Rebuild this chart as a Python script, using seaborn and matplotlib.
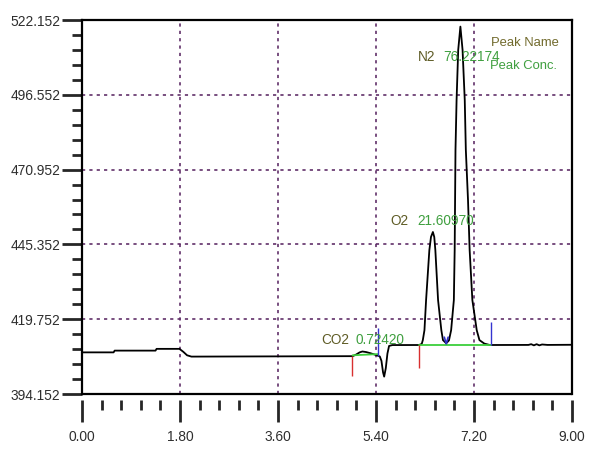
import numpy as np
import seaborn as sns
import matplotlib.pyplot as plt
from matplotlib.ticker import MultipleLocator, FixedLocator, FormatStrFormatter

# chromatogram trace (time in min, detector signal)
trace_time = [0.00, 0.58, 0.60, 1.35, 1.37, 1.79, 1.86, 1.93, 2.01,
              4.97, 5.03, 5.10, 5.15, 5.22, 5.30, 5.40, 5.47, 5.50, 5.53,
              5.55, 5.58, 5.61, 5.64, 5.70, 6.19, 6.24, 6.26, 6.29, 6.32,
              6.38, 6.41, 6.445, 6.47, 6.49, 6.54, 6.60, 6.63, 6.69, 6.74,
              6.78, 6.83, 6.845, 6.86, 6.88, 6.91, 6.95, 6.99, 7.03, 7.05,
              7.09, 7.12, 7.17, 7.25, 7.30, 7.39, 7.49, 8.20, 8.25, 8.30,
              8.35, 8.40, 8.45, 8.55, 9.00]
trace_signal = [408.4, 408.4, 409.0, 409.0, 409.6, 409.6, 408.6, 407.4, 406.95,
                407.1, 407.6, 408.4, 408.7, 408.5, 408.1, 407.5, 407.0, 405.5, 401.5,
                400.1, 403.0, 408.0, 410.6, 410.9, 410.92, 411.3, 412.6, 416.0, 426.3,
                443.4, 447.9, 449.6, 447.9, 443.4, 426.3, 416.0, 412.6, 411.5, 412.5,
                416.0, 426.3, 443.4, 477.7, 494.8, 511.9, 519.9, 511.9, 494.8, 477.7,
                460.5, 443.4, 426.3, 416.0, 412.6, 411.4, 410.92, 410.95, 411.2, 410.8,
                411.2, 410.8, 411.1, 410.95, 411.0]

# integration baselines (green) and peak start/end marks
base1_time = [4.97, 5.43]
base1_signal = [407.4, 407.8]
base2_time = [6.19, 7.51]
base2_signal = [410.92, 410.92]
start_time = [4.967, 6.19]
start_top = [407.15, 410.92]
start_bottom = [400.3, 403.05]
end_time = [5.43, 7.51]
end_top = [416.7, 418.9]
end_bottom = [407.15, 410.92]
drop_time = [6.655, 6.69, 6.725]
drop_signal = [413.6, 411.3, 413.6]

# peak labels
peak_names = ["CO2", "O2", "N2"]
peak_conc = [0.72420, 21.60970, 76.22174]
name_pos = [(4.39, 412.6), (5.67, 453.4), (6.17, 509.5)]
conc_pos = [(5.03, 412.6), (6.155, 453.4), (6.64, 509.5)]

y_min, y_max, y_step = 394.152, 522.152, 25.6

sns.set_style("white")
plt.rcParams['font.family'] = ['Liberation Sans', 'DejaVu Sans']

fig = plt.figure(figsize=(5.91, 4.57), dpi=100)
ax = fig.add_axes([82 / 591, 63 / 457, 490 / 591, 374 / 457])

grid_col = "#5a2763"
ax.set_xlim(0, 9)
ax.set_ylim(y_min, y_max)
ax.xaxis.set_major_locator(MultipleLocator(1.8))
ax.xaxis.set_minor_locator(MultipleLocator(0.36))
ax.xaxis.set_major_formatter(FormatStrFormatter("%.2f"))
yt = [y_min + y_step * k for k in range(6)]
ax.yaxis.set_major_locator(FixedLocator(yt))
ax.yaxis.set_minor_locator(FixedLocator([y_min + y_step / 5 * k for k in range(26)]))
ax.yaxis.set_major_formatter(FormatStrFormatter("%.3f"))
ax.grid(True, which="major", color=grid_col, linestyle=(0, (2.0, 2.6)), linewidth=1.15)

sns.lineplot(x=trace_time, y=trace_signal, color="black", linewidth=1.3,
             estimator=None, sort=False, ax=ax, zorder=3)
sns.lineplot(x=base1_time, y=base1_signal, color="#3ccf3c", linewidth=1.3,
             estimator=None, ax=ax, zorder=4)
sns.lineplot(x=base2_time, y=base2_signal, color="#3ccf3c", linewidth=1.3,
             estimator=None, ax=ax, zorder=4)
sns.lineplot(x=drop_time, y=drop_signal, color="#3030c8", linewidth=1.2,
             estimator=None, sort=False, ax=ax, zorder=5)
ax.vlines(start_time, start_bottom, start_top, color="#d83030", linewidth=1.0, zorder=5)
ax.vlines(end_time, end_bottom, end_top, color="#3434d0", linewidth=1.0, zorder=5)

for name, conc, (nx, ny), (cx, cy) in zip(peak_names, peak_conc, name_pos, conc_pos):
    ax.text(nx, ny, name, color="#5f5c26", fontsize=9.8, va="center", ha="left", zorder=6)
    ax.text(cx, cy, f"{conc:.5f}", color="#3f9f3f", fontsize=9.8, va="center", ha="left", zorder=6)
ax.text(7.52, 514.3, "Peak Name", color="#716a2c", fontsize=9.4, va="center", ha="left")
ax.text(7.50, 506.4, "Peak Conc.", color="#3f9f3f", fontsize=9.4, va="center", ha="left")

# frame and ticks
for side in ["left", "top", "right"]:
    ax.spines[side].set_visible(True)
    ax.spines[side].set_color("black")
    ax.spines[side].set_linewidth(1.6)
ax.spines["bottom"].set_position(("outward", 4.3))
ax.spines["bottom"].set_color("none")
ax.axhline(y_min, color="black", linewidth=1.6, clip_on=False, zorder=7)

ax.tick_params(axis="y", which="major", direction="out", length=14.4, width=2.0,
               pad=1, labelsize=9.9, labelcolor="#2e2e2e", left=True)
ax.tick_params(axis="y", which="minor", direction="out", length=7.2, width=2.0, left=True)
ax.tick_params(axis="x", which="major", direction="out", length=15.8, width=2.0,
               pad=6, labelsize=9.9, labelcolor="#2e2e2e", bottom=True)
ax.tick_params(axis="x", which="minor", direction="out", length=7.2, width=2.0, bottom=True)

plt.savefig("out.png", dpi=100)
